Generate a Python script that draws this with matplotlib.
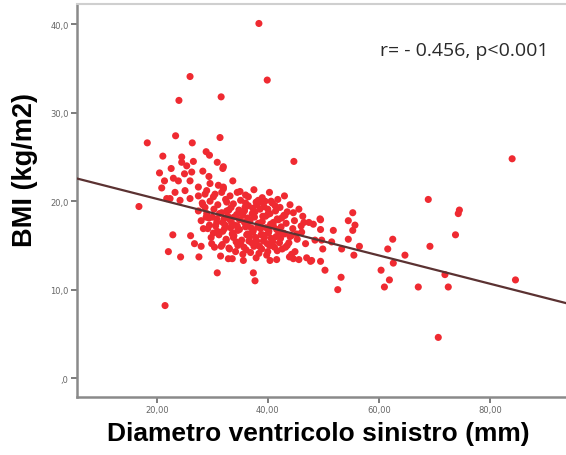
import matplotlib
matplotlib.use("Agg")
import matplotlib.pyplot as plt
import numpy as np

# Outlying / sparse points (diametro mm, BMI)
x_sparse = [38.4, 26.0, 39.9, 24.0, 31.6, 18.3, 23.4, 26.4, 31.4, 44.7, 84.0, 68.9, 74.5, 74.3,
            73.8, 69.2, 64.7, 71.9, 67.1, 72.5, 84.6, 70.7, 21.5, 16.8, 22.9, 22.1, 24.3, 26.1,
            26.8, 28.0, 27.6, 30.9, 37.4, 37.7, 55.3, 54.5, 55.7, 55.3, 49.5, 48.2, 49.5, 51.8,
            48.5, 49.7, 51.5, 49.9, 53.3, 54.5, 56.5, 55.5, 47.9, 49.5, 50.3, 53.2, 52.6, 62.5,
            61.6, 62.6, 60.4, 61.9, 61.0, 47.0, 47.7]
y_sparse = [40.1, 34.1, 33.7, 31.4, 31.8, 26.6, 27.4, 26.6, 27.2, 24.5, 24.8, 20.2, 19.0, 18.6,
            16.2, 14.9, 13.9, 11.7, 10.3, 10.3, 11.1, 4.6, 8.2, 19.4, 16.2, 14.3, 13.7, 16.1,
            15.2, 14.9, 13.7, 11.9, 11.9, 11.0, 18.7, 17.8, 17.3, 16.7, 17.9, 17.4, 16.8, 16.7,
            15.6, 15.6, 15.4, 14.6, 14.6, 15.7, 14.9, 13.9, 13.3, 13.2, 12.2, 11.4, 10.0, 15.7,
            14.6, 13.0, 12.2, 11.1, 10.3, 13.6, 13.2]

# Upper-left part of the main cloud
x_upper = [21.1, 24.5, 28.9, 29.5, 22.6, 24.5, 25.4, 26.6, 30.9, 20.5, 21.4, 23.0, 25.0, 26.3,
           28.3, 29.4, 31.9, 20.9, 23.9, 26.0, 27.5, 29.6, 31.1, 23.3, 25.1, 22.4, 24.2, 26.0,
           27.5, 28.7, 30.2, 31.7, 32.6, 28.3, 21.8, 32.0, 33.7, 32.0, 35.0, 36.5, 39.5, 40.6,
           38.3, 43.5, 49.4, 28.4, 30.8]
y_upper = [25.1, 25.0, 25.6, 25.2, 23.7, 24.4, 24.0, 24.5, 24.4, 23.2, 22.3, 22.6, 23.1, 23.3,
           23.4, 22.8, 23.7, 21.5, 22.3, 22.3, 21.6, 22.0, 21.8, 21.0, 21.2, 20.3, 20.1, 20.3,
           20.6, 20.8, 20.5, 21.0, 19.9, 19.6, 20.3, 23.9, 22.3, 21.6, 21.1, 20.5, 20.0, 20.0,
           20.1, 18.8, 18.0, 16.9, 18.0]

# Dense core of the cloud
x_core = [29.0, 30.5, 32.0, 33.2, 34.5, 36.0, 37.5, 39.0, 40.3, 41.8, 43.0,
          28.2, 29.6, 31.0, 32.4, 33.8, 35.1, 36.5, 37.9, 39.3, 40.8, 42.2, 44.0, 45.6,
          27.5, 29.0, 30.3, 31.7, 33.0, 34.4, 35.8, 37.2, 38.6, 40.0, 41.4, 42.9, 44.6, 46.3,
          28.0, 29.4, 30.8, 32.1, 33.5, 34.9, 36.3, 37.6, 39.0, 40.5, 41.9, 43.3, 44.8, 46.0, 47.4,
          29.2, 30.6, 31.9, 33.3, 34.6, 36.0, 37.3, 38.7, 40.1, 41.6, 43.0, 44.5, 46.1,
          29.8, 31.2, 32.5, 33.9, 35.3, 36.7, 38.0, 39.4, 40.9, 42.3, 43.8, 45.3, 46.8,
          30.4, 31.8, 33.1, 34.6, 36.1, 37.5, 38.9, 40.3, 41.7, 43.2, 44.9,
          31.5, 33.6, 35.5, 37.9, 39.8, 41.6, 43.9, 45.6,
          32.8, 34.0, 35.5, 36.8, 38.2, 39.6, 41.0, 33.7, 35.0, 36.4, 37.8, 39.1, 40.6, 42.0,
          34.2, 36.9, 38.4, 40.0, 35.9, 38.0, 32.3, 30.0, 28.7, 42.5, 44.0,
          32.9, 35.6, 40.4, 44.6, 44.3]
y_core = [21.2, 20.8, 21.4, 20.6, 21.0, 20.7, 21.3, 20.4, 21.0, 20.2, 20.6,
          19.8, 20.0, 19.6, 20.2, 19.7, 20.1, 19.5, 19.9, 19.4, 19.8, 19.3, 19.6, 19.1,
          18.9, 18.6, 19.1, 18.7, 19.0, 18.5, 18.9, 18.6, 19.1, 18.5, 18.9, 18.4, 18.7, 18.3,
          17.8, 18.1, 17.6, 18.0, 17.5, 17.9, 17.4, 18.2, 17.7, 17.4, 17.9, 17.5, 17.8, 17.2, 17.6,
          16.9, 17.2, 16.6, 17.0, 16.7, 17.1, 16.5, 16.9, 16.4, 16.8, 16.3, 16.9, 16.5,
          15.9, 16.2, 15.7, 16.1, 15.6, 16.0, 15.5, 15.9, 15.4, 15.8, 15.3, 15.7, 15.2,
          14.8, 15.1, 14.6, 15.0, 14.5, 14.9, 14.6, 15.0, 14.4, 14.8, 14.3,
          13.8, 13.5, 14.0, 13.6, 13.9, 13.4, 13.7, 13.4,
          18.3, 17.3, 18.4, 17.8, 17.1, 18.3, 17.2, 16.4, 15.3, 16.3, 15.9, 16.2, 15.8, 16.5,
          14.3, 14.2, 14.1, 14.3, 19.3, 19.6, 17.3, 18.2, 19.3, 18.1, 16.0,
          13.5, 13.3, 13.3, 13.5, 14.0]

# Additional overlapping points in the densest part of the cloud
x_dense = [31.3, 32.6, 33.9, 35.2, 36.4, 37.7, 39.1, 40.4, 41.7, 43.1,
           31.9, 33.2, 34.5, 35.8, 37.0, 38.3, 39.7, 41.0, 42.4,
           30.9, 32.2, 33.6, 34.9, 36.2, 37.4, 38.8, 40.2, 41.5, 42.8, 44.2,
           32.5, 33.8, 35.1, 36.6, 37.9, 39.2, 40.7, 42.1, 43.5,
           31.6, 33.0, 34.3, 35.7, 37.1, 38.5, 39.9, 41.2, 42.6,
           33.4, 34.8, 36.0, 37.3, 38.6, 40.0, 41.3,
           29.5, 30.2, 28.9, 29.9, 45.2, 46.5]
y_dense = [18.6, 18.9, 18.2, 18.7, 18.1, 18.8, 18.3, 18.6, 18.0, 18.4,
           17.6, 17.9, 17.2, 17.6, 17.0, 17.5, 17.0, 17.6, 17.1,
           16.6, 16.9, 16.3, 16.8, 16.2, 16.7, 16.2, 16.6, 16.0, 16.4, 16.1,
           15.6, 15.9, 15.2, 15.5, 15.1, 15.5, 15.0, 15.3, 15.0,
           14.9, 14.7, 15.4, 14.8, 15.3, 14.9, 15.2, 14.8, 14.6,
           19.3, 19.0, 19.8, 19.2, 19.9, 19.1, 19.5,
           17.3, 16.4, 18.2, 15.2, 16.3, 17.6]

# Regression line: intercept and slope
reg_intercept = 23.47
reg_slope = -0.16

annotation = "r= - 0.456, p<0.001"
x_label = "Diametro ventricolo sinistro (mm)"
y_label = "BMI (kg/m2)"
x_ticks = [20, 40, 60, 80]
x_ticklabels = ["20,00", "40,00", "60,00", "80,00"]
y_ticks = [0, 10, 20, 30, 40]
y_ticklabels = [",0", "10,0", "20,0", "30,0", "40,0"]

fig = plt.figure(figsize=(5.66, 4.56), dpi=100)
ax = fig.add_axes([0.136, 0.127, 0.864, 0.862])

xs = x_sparse + x_upper + x_core + x_dense
ys = y_sparse + y_upper + y_core + y_dense
ax.scatter(xs, ys, s=26, color="#ef2a31", edgecolors="none", zorder=2)

xlim = (5.64, 93.7)
ax.set_xlim(*xlim)
ax.set_ylim(-2.15, 42.3)
lx = np.array(xlim)
ax.plot(lx, reg_intercept + reg_slope * lx, color="#5b3232", lw=1.6, zorder=3)

ax.set_xticks(x_ticks)
ax.set_xticklabels(x_ticklabels)
ax.set_yticks(y_ticks)
ax.set_yticklabels(y_ticklabels)
ax.tick_params(axis="both", labelsize=6, colors="#666666", length=4, width=1.2, direction="out", pad=2)

for side in ["left", "bottom"]:
    ax.spines[side].set_color("#8a8a8a")
    ax.spines[side].set_linewidth(1.8)
ax.spines["top"].set_color("#cfcfcf")
ax.spines["top"].set_linewidth(1.5)
ax.spines["right"].set_visible(False)

ax.set_xlabel(x_label, fontsize=19, fontweight="bold", family="Liberation Sans")
ax.xaxis.set_label_coords(0.493, -0.060)
ax.set_ylabel(y_label, fontsize=19.5, fontweight="bold", family="Liberation Sans")
ax.yaxis.set_label_coords(-0.080, 0.580)

ax.text(0.965, 0.884, annotation, transform=ax.transAxes, ha="right", va="center",
        fontsize=14, family="Open Sans", color="#2a2a2a")

fig.savefig("out.png", dpi=100)
